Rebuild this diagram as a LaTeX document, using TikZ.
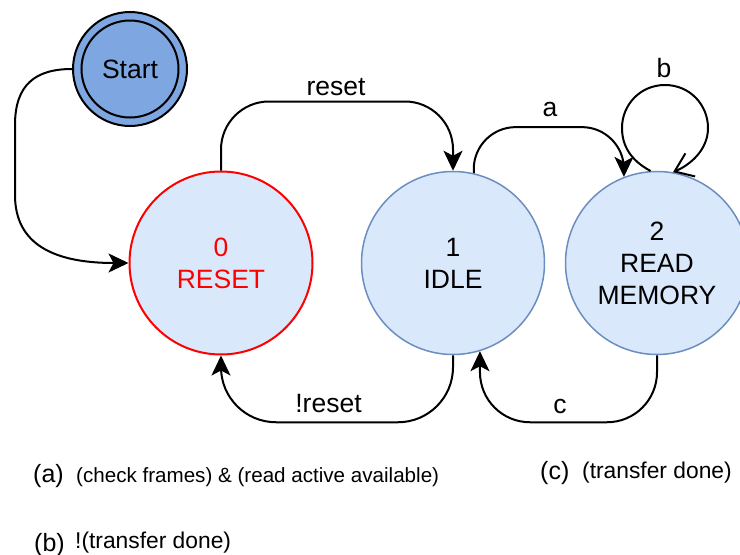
\documentclass[tikz,border=0pt]{standalone}
\usepackage{fontspec}
\setmainfont{Liberation Sans}
\usetikzlibrary{arrows.meta}
\definecolor{stateFill}{HTML}{DAE8FC}
\definecolor{stateLine}{HTML}{6C8EBF}
\definecolor{startFill}{HTML}{7EA6E0}
\definecolor{resetRed}{HTML}{FF0000}
\begin{document}
\begin{tikzpicture}[x=1pt,y=-1pt,
  state/.style={circle, draw=stateLine, fill=stateFill, line width=1.5pt,
    minimum size=183pt, inner sep=0pt, align=center,
    font=\fontsize{26.5}{32}\selectfont},
  startstate/.style={circle, draw=black, fill=startFill, line width=2pt,
    minimum size=114pt, inner sep=0pt, font=\fontsize{26.5}{32}\selectfont},
  edge/.style={line width=2pt, -{Stealth[length=20pt,width=19pt,inset=5pt]}},
  loopedge/.style={line width=2pt, -{Straight Barb[length=17pt,width=25pt]}},
  lbl/.style={font=\fontsize{26.5}{32}\selectfont, inner sep=0pt, anchor=base},
  key/.style={font=\fontsize{25}{30}\selectfont, anchor=base west, inner sep=0pt},
  keytext/.style={font=\fontsize{20.6}{25}\selectfont, anchor=base west, inner sep=0pt},
  keytextbig/.style={keytext, font=\fontsize{22.8}{27}\selectfont},
]
\useasboundingbox (0,0) rectangle (740,555);

% states
\node[startstate] (start) at (130,69) {Start};
\draw[line width=2pt] (start.center) circle[radius=48.5];
\node[state, draw=resetRed, text=resetRed, line width=2pt] (reset) at (221,263) {0\\RESET};
\node[state] (idle) at (453,263) {1\\IDLE};
\node[state] (read) at (657,263) {2\\READ\\MEMORY};

% transitions
\draw[edge] (start.west) .. controls (35,69) and (15,85) .. (15,125)
  -- (15,195) .. controls (15,245) and (55,263) .. (reset.west);
\draw[edge, rounded corners=48] (reset.north) -- ++(0,-69) -| (idle.north);
\draw[edge, rounded corners=42] (idle.77) -- ++(0,-46) -| (read.111);
\draw[edge, rounded corners=55] (idle.south) -- ++(0,67) -| (reset.south);
\draw[edge, rounded corners=50] (read.south) -- ++(0,67) -| (idle.-73);
\draw[loopedge] (read.94) .. controls (630,160) and (622,145) .. (622,128)
  .. controls (622,105) and (640,85) .. (665,85)
  .. controls (690,85) and (708,105) .. (708,128)
  .. controls (708,150) and (690,165) .. (read.80);

% transition labels
\node[lbl] (lreset) at (336,95) {reset};
\node[lbl] (la) at (550,116) {a};
\node[lbl] (lb) at (664,77) {b};
\node[lbl] (lnreset) at (328.5,412) {!reset};
\node[lbl] (lc) at (560,413) {c};

% legend
\node[key] (ka) at (33,482) {(a)};
\node[keytext] (ta) at (76,482) {(check frames) \& (read active available)};
\node[key] (kc) at (540,479) {(c)};
\node[keytextbig] (tc) at (582,478) {(transfer done)};
\node[key] (kb) at (34,551) {(b)};
\node[keytextbig] (tb) at (75,548) {!(transfer done)};
\end{tikzpicture}
\end{document}
